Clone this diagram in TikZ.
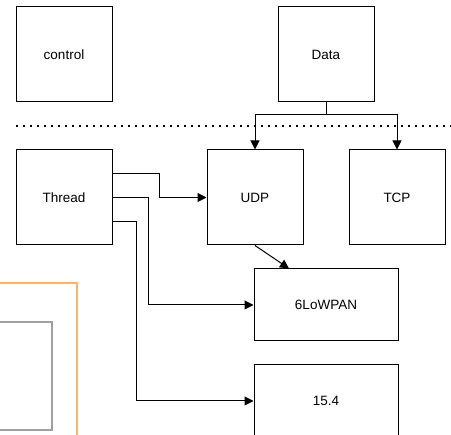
\documentclass[tikz,border=0pt]{standalone}
\usepackage{fontspec}
\setmainfont{Liberation Sans}
\usetikzlibrary{arrows.meta}
\definecolor{orangeedge}{RGB}{255,179,102}
\definecolor{sketchgray}{RGB}{160,160,160}
\begin{document}
\begin{tikzpicture}[x=1pt,y=-1pt,
  box/.style={draw=black,line width=1pt,minimum width=96pt,minimum height=95pt,inner sep=0pt,font=\fontsize{13.5}{16}\selectfont},
  widebox/.style={box,minimum width=144pt,minimum height=72pt},
  arr/.style={draw=black,line width=1pt,-{Triangle[length=9pt,width=9pt]}},
  conn/.style={draw=black,line width=1pt}]
\useasboundingbox (0,0) rectangle (451,435);
\clip (0,0) rectangle (451,435);
\fill[white] (0,0) rectangle (451,435);
% partial shapes at bottom left
\draw[orangeedge,line width=1.5pt] (-5,283) rectangle (77,445);
\draw[sketchgray,line width=2pt] (-5,322) rectangle (52,430);
% separator
\draw[line width=1.6pt,dash pattern=on 1.6pt off 5.4pt] (16,126) -- (451,126);
% nodes
\node[box] (control) at (64,54.5) {control};
\node[box] (Data) at (326,54.5) {Data};
\node[box] (Thread) at (64,197.5) {Thread};
\node[box] (UDP) at (255,197.5) {UDP};
\node[box] (TCP) at (397,197.5) {TCP};
\node[widebox] (LoW) at (326,305) {6LoWPAN};
\node[widebox] (n154) at (326,401) {15.4};
% connectors
\draw[arr] (Data.south) -- ++(0,12) -| (UDP.north);
\draw[arr] (Data.south) -- ++(0,12) -| (TCP.north);
\draw[arr] (UDP.south) -- ([xshift=-37pt]LoW.north);
\draw[arr] ([yshift=23.5pt]Thread.east) -- ++(47,0) |- (UDP.west);
\draw[arr] (Thread.east) -- ++(36,0) |- (LoW.west);
\draw[arr] ([yshift=-24.5pt]Thread.east) -- ++(24,0) |- (n154.west);
\end{tikzpicture}
\end{document}
